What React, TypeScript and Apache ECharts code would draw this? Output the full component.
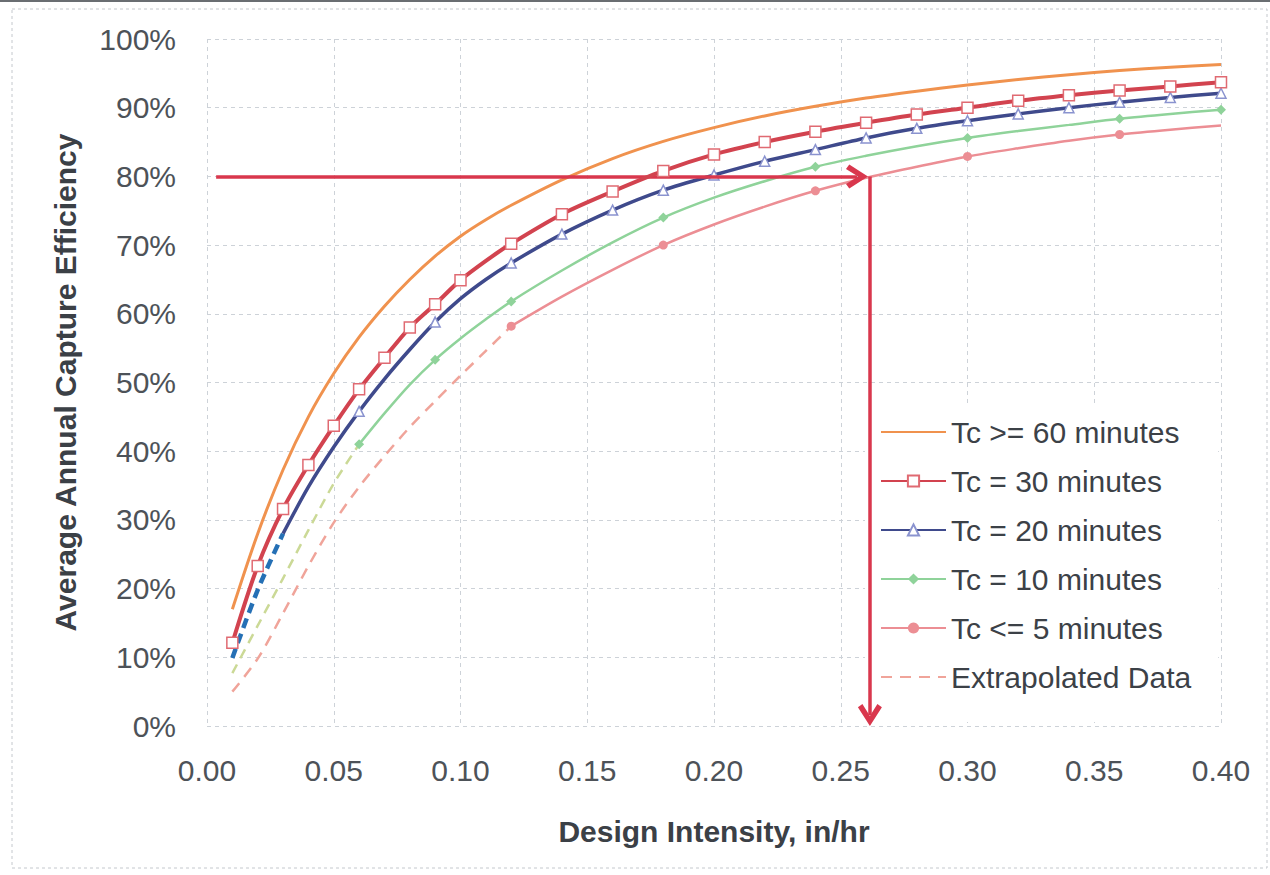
import React, { useEffect, useRef } from "react";
import * as echarts from "echarts";

// ---------- data ----------
const xFull = [0.01, 0.02, 0.03, 0.04, 0.05, 0.06, 0.07, 0.08, 0.09, 0.1, 0.11, 0.12, 0.14, 0.16, 0.18, 0.2, 0.22, 0.24, 0.26, 0.28, 0.3, 0.32, 0.34, 0.36, 0.38, 0.4];

const tc60Y = [17, 28, 37.3, 45, 51.3, 56.6, 61.1, 65, 68.4, 71.3, 73.7, 75.8, 79.5, 82.6, 85.1, 87.1, 88.8, 90.2, 91.4, 92.4, 93.3, 94.1, 94.8, 95.4, 95.9, 96.3];

const tc30Y = [12.1, 23.3, 31.6, 38, 43.7, 49, 53.6, 58, 61.4, 64.9, 67.7, 70.2, 74.5, 77.8, 80.8, 83.2, 85, 86.5, 87.8, 89, 90, 91, 91.8, 92.5, 93.1, 93.7];
const tc30Markers = [0.01, 0.02, 0.03, 0.04, 0.05, 0.06, 0.07, 0.08, 0.09, 0.1, 0.12, 0.14, 0.16, 0.18, 0.2, 0.22, 0.24, 0.26, 0.28, 0.3, 0.32, 0.34, 0.36, 0.38, 0.4];

const tc20X = [0.03, 0.04, 0.05, 0.06, 0.07, 0.08, 0.09, 0.1, 0.11, 0.12, 0.14, 0.16, 0.18, 0.2, 0.22, 0.24, 0.26, 0.28, 0.3, 0.32, 0.34, 0.36, 0.38, 0.4];
const tc20Y = [28, 34.8, 40.6, 45.8, 50.5, 54.8, 58.8, 62.2, 65, 67.4, 71.6, 75.1, 78, 80.2, 82.2, 83.9, 85.6, 87, 88.1, 89.1, 90, 90.8, 91.5, 92.1];
const tc20Markers = [0.06, 0.09, 0.12, 0.14, 0.16, 0.18, 0.2, 0.22, 0.24, 0.26, 0.28, 0.3, 0.32, 0.34, 0.36, 0.38, 0.4];
const tc20ExtX = [0.01, 0.02, 0.03];
const tc20ExtY = [9.9, 19.8, 28];

const tc10X = [0.06, 0.07, 0.08, 0.09, 0.1, 0.11, 0.12, 0.14, 0.16, 0.18, 0.2, 0.22, 0.24, 0.26, 0.28, 0.3, 0.32, 0.34, 0.36, 0.38, 0.4];
const tc10Y = [41, 45.5, 49.7, 53.3, 56.4, 59.2, 61.8, 66.3, 70.4, 74, 76.9, 79.3, 81.4, 83, 84.4, 85.6, 86.6, 87.5, 88.4, 89.1, 89.7];
const tc10Markers = [0.06, 0.09, 0.12, 0.18, 0.24, 0.3, 0.36, 0.4];
const tc10ExtX = [0.01, 0.02, 0.03, 0.04, 0.05, 0.06];
const tc10ExtY = [7.7, 14.6, 21.5, 28.5, 35.3, 41];

const tc5X = [0.12, 0.14, 0.16, 0.18, 0.2, 0.22, 0.24, 0.26, 0.28, 0.3, 0.32, 0.34, 0.36, 0.38, 0.4];
const tc5Y = [58.2, 62.5, 66.4, 70, 73, 75.6, 77.9, 79.8, 81.4, 82.9, 84.1, 85.2, 86.1, 86.8, 87.4];
const tc5Markers = [0.12, 0.18, 0.24, 0.3, 0.36];
const tc5ExtX = [0.01, 0.02, 0.03, 0.04, 0.05, 0.06, 0.07, 0.08, 0.09, 0.1, 0.11, 0.12];
const tc5ExtY = [5, 9.8, 16.4, 23.3, 29.6, 34.8, 39.3, 43.5, 47.3, 51, 54.6, 58.2];

const xTicks = { min: 0, max: 0.4, interval: 0.05 };
const yTicks = { min: 0, max: 100, interval: 10 };

// Design arrow: read 80% at design intensity ~0.262
const targetEff = 80;
const arrowStartX = 0.0036;
const arrowHTipX = 0.2564;
const arrowVX = 0.2615;
const arrowVTipY = 1.6;

const legendNames = [
  "Tc >= 60 minutes",
  "Tc = 30 minutes",
  "Tc = 20 minutes",
  "Tc = 10 minutes",
  "Tc <= 5 minutes",
  "Extrapolated Data",
];
const legendNoSymbol = ["Tc >= 60 minutes", "Extrapolated Data"];

function build(xs: number[], ys: number[], markers: number[], symbol: string) {
  return xs.map((x, i) => ({
    value: [x, ys[i]],
    symbol: markers.some((m) => Math.abs(m - x) < 1e-9) ? symbol : "none",
  }));
}
function pairs(xs: number[], ys: number[]) {
  return xs.map((x, i) => [x, ys[i]]);
}

const FONT = "'Liberation Sans', Arial, Helvetica, sans-serif";
const chevron = "path://M0,17 L12,0 L24,17 L19.5,20 L12,9 L4.5,20 Z";
const SMOOTH = 0.3;

export default function App() {
  const ref = useRef<HTMLDivElement>(null);
  useEffect(() => {
    if (!ref.current) return;
    const chart = echarts.init(ref.current, undefined, { renderer: "svg" });
    const gridLine = { show: true, lineStyle: { color: "#cdd2d8", type: [4, 4] as any, width: 1 } };
    chart.setOption({
      animation: false,
      backgroundColor: "#ffffff",
      textStyle: { fontFamily: FONT },
      grid: { left: 207, right: 49, top: 39, bottom: 149, containLabel: false },
      xAxis: {
        type: "value",
        min: xTicks.min,
        max: xTicks.max,
        interval: xTicks.interval,
        axisLine: { show: false },
        axisTick: { show: false },
        splitLine: gridLine,
        axisLabel: {
          formatter: (v: number) => v.toFixed(2),
          fontSize: 30,
          color: "#4d5258",
          fontFamily: FONT,
          margin: 29,
        },
        name: "Design Intensity, in/hr",
        nameLocation: "middle",
        nameGap: 90,
        nameTextStyle: { fontSize: 30, fontWeight: "bold", color: "#3b4046", fontFamily: FONT },
      },
      yAxis: {
        type: "value",
        min: yTicks.min,
        max: yTicks.max,
        interval: yTicks.interval,
        axisLine: { show: false },
        axisTick: { show: false },
        splitLine: gridLine,
        axisLabel: {
          formatter: (v: number) => `${v}%`,
          fontSize: 30,
          color: "#4d5258",
          fontFamily: FONT,
          margin: 31,
        },
        name: "Average Annual Capture Efficiency",
        nameLocation: "middle",
        nameGap: 127,
        nameTextStyle: { fontSize: 30, fontWeight: "bold", color: "#3b4046", fontFamily: FONT },
      },
      legend: {
        data: legendNames.map((n) =>
          legendNoSymbol.includes(n) ? { name: n, itemStyle: { opacity: 0 } } : { name: n }
        ),
        orient: "vertical",
        left: 865,
        top: 404,
        padding: [13, 27, 30, 15],
        backgroundColor: "#ffffff",
        itemWidth: 65,
        itemHeight: 14,
        itemGap: 19,
        selectedMode: false,
        textStyle: { fontSize: 30, color: "#3c4147", fontFamily: FONT },
      },
      graphic: [
        {
          type: "rect",
          shape: { x: 12, y: 9, width: 1255, height: 859 },
          style: { fill: null, stroke: "#c4c8cd", lineWidth: 1, lineDash: [3, 3] },
          silent: true,
        },
        {
          type: "line",
          shape: { x1: 0, y1: 1, x2: 1270, y2: 1 },
          style: { stroke: "#6a6e72", lineWidth: 2 },
          silent: true,
        },
      ],
      series: [
        {
          name: "Tc >= 60 minutes",
          type: "line",
          smooth: SMOOTH,
          symbol: "none",
          data: pairs(xFull, tc60Y),
          lineStyle: { color: "#f0924e", width: 3 },
          itemStyle: { color: "#f0924e" },
          z: 3,
        },
        {
          name: "Tc = 20 minutes ext",
          type: "line",
          smooth: SMOOTH,
          symbol: "none",
          data: pairs(tc20ExtX, tc20ExtY),
          lineStyle: { color: "#2570b5", width: 4.5, type: [10, 6] },
          z: 2,
        },
        {
          name: "Tc = 10 minutes ext",
          type: "line",
          smooth: SMOOTH,
          symbol: "none",
          data: pairs(tc10ExtX, tc10ExtY),
          lineStyle: { color: "#cbd996", width: 2.5, type: [10, 7] },
          z: 2,
        },
        {
          name: "Extrapolated Data",
          type: "line",
          smooth: SMOOTH,
          symbol: "none",
          data: pairs(tc5ExtX, tc5ExtY),
          lineStyle: { color: "#f0a49a", width: 2.5, type: [11, 8] },
          itemStyle: { color: "#f0a49a" },
          z: 2,
        },
        {
          name: "Tc <= 5 minutes",
          type: "line",
          smooth: SMOOTH,
          symbol: "circle",
          symbolSize: 9,
          data: build(tc5X, tc5Y, tc5Markers, "circle"),
          lineStyle: { color: "#ec8e94", width: 2.5 },
          itemStyle: { color: "#ec8e94" },
          z: 3,
        },
        {
          name: "Tc = 10 minutes",
          type: "line",
          smooth: SMOOTH,
          symbol: "diamond",
          symbolSize: 10,
          data: build(tc10X, tc10Y, tc10Markers, "diamond"),
          lineStyle: { color: "#8fd39a", width: 2.5 },
          itemStyle: { color: "#8fd39a" },
          z: 3,
        },
        {
          name: "Tc = 20 minutes",
          type: "line",
          smooth: SMOOTH,
          symbol: "triangle",
          symbolSize: 10,
          data: build(tc20X, tc20Y, tc20Markers, "triangle"),
          lineStyle: { color: "#3f4a8c", width: 3.5 },
          itemStyle: { color: "#ffffff", borderColor: "#8a93cf", borderWidth: 1.5 },
          z: 4,
        },
        {
          name: "Tc = 30 minutes",
          type: "line",
          smooth: SMOOTH,
          symbol: "rect",
          symbolSize: 11,
          data: build(xFull, tc30Y, tc30Markers, "rect"),
          lineStyle: { color: "#d2434f", width: 4 },
          itemStyle: { color: "#ffffff", borderColor: "#e06a72", borderWidth: 1.5 },
          z: 5,
        },
        {
          name: "arrow",
          type: "line",
          data: [],
          z: 6,
          markLine: {
            silent: true,
            animation: false,
            symbol: ["none", chevron],
            symbolSize: [24, 22],
            label: { show: false },
            emphasis: { disabled: true },
            lineStyle: { color: "#d9374d", width: 3.5, type: "solid" },
            data: [
              [{ coord: [arrowStartX, targetEff] }, { coord: [arrowHTipX, targetEff] }],
              [{ coord: [arrowVX, targetEff] }, { coord: [arrowVX, arrowVTipY] }],
            ],
          },
        },
      ],
    });
    return () => chart.dispose();
  }, []);
  return (
    <div
      ref={ref}
      style={{ position: "fixed", left: 0, top: 0, width: 1270, height: 875, background: "#fff" }}
    />
  );
}
